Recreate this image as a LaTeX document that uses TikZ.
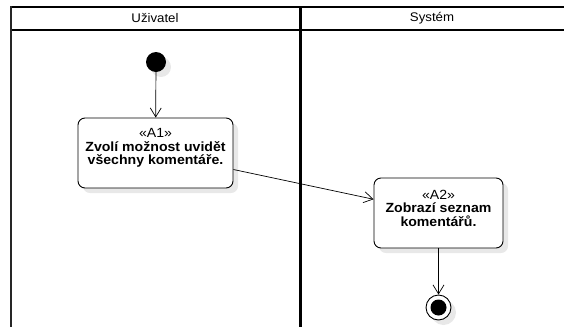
\documentclass[tikz,border=0pt]{standalone}
\usepackage{fontspec}
\setmainfont[FakeStretch=1.06]{Liberation Sans}
\usetikzlibrary{arrows.meta,shadows}
\begin{document}
\begin{tikzpicture}[x=1pt,y=-1pt,
  lane/.style={line width=2pt},
  softshadow/.style={drop shadow={shadow xshift=5pt,shadow yshift=-5pt,fill=black!9,opacity=1}},
  action/.style={draw,line width=0.9pt,rounded corners=7pt,fill=white,softshadow},
  actlabel/.style={align=center,inner sep=0pt,font=\fontsize{13.3}{13.5}\selectfont},
  initial/.style={circle,fill=black,minimum size=20pt,inner sep=0pt,softshadow},
  final/.style={circle,draw,line width=0.9pt,fill=white,minimum size=25pt,inner sep=0pt,softshadow},
  heading/.style={font=\fontsize{12.5}{14}\selectfont,inner sep=0pt},
  flow/.style={-{Straight Barb[length=9pt,width=11pt]},line width=0.7pt}]
\useasboundingbox (0,0) rectangle (564,327);

% swimlane frame
\draw[lane] (11,7) -- (564,7);
\draw[lane] (11,30) -- (564,30);
\draw[line width=1.6pt,black!85] (11,6) -- (11,327);
\draw[line width=3pt] (300.5,6) -- (300.5,327);
\node[heading] (lanea) at (155,18.5) {Uživatel};
\node[heading] (laneb) at (432,18.5) {Systém};

% nodes
\node[initial] (start) at (156,62) {};
\node[action,minimum width=155pt,minimum height=70pt] (a1) at (155.5,153) {};
\node[actlabel] (a1text) at (155.5,148) {«A1»\\\textbf{Zvolí možnost uvidět}\\\textbf{všechny komentáře.}};
\node[action,minimum width=129pt,minimum height=70pt] (a2) at (438.5,213) {};
\node[actlabel] (a2text) at (438.5,208) {«A2»\\\textbf{Zobrazí seznam}\\\textbf{komentářů.}};
\node[final] (end) at (438.5,307.5) {};
\node[circle,fill=black,minimum size=16pt,inner sep=0pt] (enddot) at (end.center) {};

% control flow
\draw[flow] (start) -- (a1);
\draw[flow] (a1) -- (a2);
\draw[flow] (a2) -- (end);
\end{tikzpicture}
\end{document}
